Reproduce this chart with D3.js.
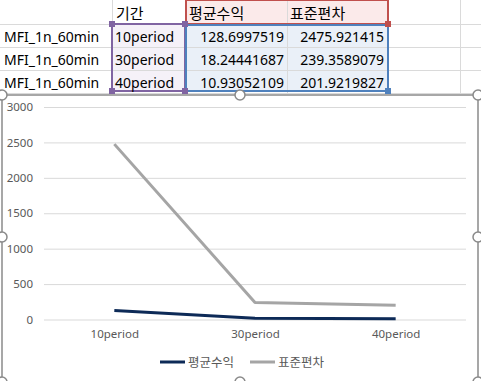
<!DOCTYPE html>
<html><head><meta charset="utf-8">
<script src="https://cdn.jsdelivr.net/npm/d3@7"></script>
<style>html,body{margin:0;padding:0;background:#fff;overflow:hidden}</style>
</head><body>
<svg id="c" width="481" height="381"></svg>
<script>
const rowLabels = ["MFI_1n_60min","MFI_1n_60min","MFI_1n_60min"];
const categories = ["10period","30period","40period"];
const seriesNames = ["평균수익","표준편차"];
const avgReturn = [128.6997519, 18.24441687, 10.93052109];
const stdDev = [2475.921415, 239.3589079, 201.9219827];
const yTicks = [0,500,1000,1500,2000,2500,3000];
const headerLabel = "기간";

const svg = d3.select("#c");
const F = "'Segoe UI','Noto Sans','Noto Sans CJK KR',sans-serif";

// ---- spreadsheet ----
const colX = [0,112,185,287,388,460,481];
const rowY = [0,24,47,70,93];
svg.append("rect").attr("x",185).attr("y",0).attr("width",203).attr("height",24).attr("fill","#fbeaea");
svg.append("rect").attr("x",185).attr("y",24).attr("width",203).attr("height",67).attr("fill","#eaf0f8");
svg.append("rect").attr("x",112).attr("y",24).attr("width",73).attr("height",67).attr("fill","#f5f1f8");
colX.slice(1,-1).forEach(x=>svg.append("line").attr("x1",x+.5).attr("x2",x+.5).attr("y1",0).attr("y2",93).attr("stroke","#dadada"));
rowY.slice(1).forEach(y=>svg.append("line").attr("x1",0).attr("x2",481).attr("y1",y+.5).attr("y2",y+.5).attr("stroke","#dadada"));
function box(x,y,w,h,c){svg.append("rect").attr("x",x).attr("y",y).attr("width",w).attr("height",h).attr("fill","none").attr("stroke",c).attr("stroke-width",2);}
box(112,24,73,67,"#8064a2");
box(186,0,202,24,"#c0504d");
box(186,25,202,66,"#4f81bd");
function sq(x,y,c){svg.append("rect").attr("x",x-3).attr("y",y-3).attr("width",6).attr("height",6).attr("fill",c);}
sq(112,24,"#8064a2");sq(185,24,"#8064a2");sq(112,91,"#8064a2");sq(185,91,"#8064a2");
sq(388,24,"#c0504d");sq(388,91,"#4f81bd");
function txt(x,y,s,anchor,size){svg.append("text").attr("x",x).attr("y",y).attr("text-anchor",anchor||"start").attr("font-family",F).attr("font-size",size||14).attr("fill","#000").text(s);}
txt(116,19,headerLabel,"start",15);
txt(189,19,seriesNames[0],"start",15);
txt(290,19,seriesNames[1],"start",15);
rowLabels.forEach((r,i)=>{
  const y = rowY[i+1]+18;
  txt(4,y,r);
  txt(115,y,categories[i]);
  txt(284,y,String(avgReturn[i]),"end");
  txt(384,y,String(stdDev[i]),"end");
});

// ---- chart ----
const cx0=2, cy0=95, cx1=478, cy1=382;
svg.append("rect").attr("x",cx0).attr("y",cy0).attr("width",cx1-cx0).attr("height",cy1-cy0).attr("fill","#fff").attr("stroke","#8a8a8a").attr("stroke-width",1.5);

const x = d3.scalePoint().domain(categories).range([44,466]).padding(0.5);
const y = d3.scaleLinear().domain([0,3000]).range([319.5,107]);

const gy = svg.append("g").attr("transform","translate(44,0)")
  .call(d3.axisLeft(y).tickValues(yTicks).tickFormat(d3.format("d")).tickSize(-422).tickPadding(11));
gy.select(".domain").remove();
gy.selectAll(".tick line").attr("stroke","#d9d9d9");
gy.selectAll(".tick text").attr("font-family",F).attr("font-size",11.5).attr("fill","#595959");

const gx = svg.append("g").attr("transform","translate(0,319.5)")
  .call(d3.axisBottom(x).tickSize(0).tickPadding(10));
gx.select(".domain").remove();
gx.selectAll(".tick text").attr("font-family",F).attr("font-size",11.5).attr("fill","#595959");

const line = d3.line().x((d,i)=>x(categories[i])).y(d=>y(d));
const colors = ["#0d2a57","#a5a5a5"];
[avgReturn,stdDev].forEach((s,k)=>{
  svg.append("path").attr("d",line(s)).attr("fill","none").attr("stroke",colors[k]).attr("stroke-width",3).attr("stroke-linejoin","round");
});

const leg = [{x:160,name:seriesNames[0],c:colors[0]},{x:250,name:seriesNames[1],c:colors[1]}];
leg.forEach(l=>{
  svg.append("line").attr("x1",l.x).attr("x2",l.x+25).attr("y1",362).attr("y2",362).attr("stroke",l.c).attr("stroke-width",3);
  svg.append("text").attr("x",l.x+28).attr("y",366.5).attr("font-family",F).attr("font-size",12.5).attr("fill","#595959").text(l.name);
});

[[cx0,cy0],[240,cy0],[cx1,cy0],[cx0,237],[cx1,237],[cx0,cy1],[240,cy1],[cx1,cy1]].forEach(([hx,hy])=>{
  svg.append("circle").attr("cx",hx).attr("cy",hy).attr("r",5).attr("fill","#fff").attr("stroke","#8a8a8a").attr("stroke-width",1.5);
});
</script>
</body></html>
